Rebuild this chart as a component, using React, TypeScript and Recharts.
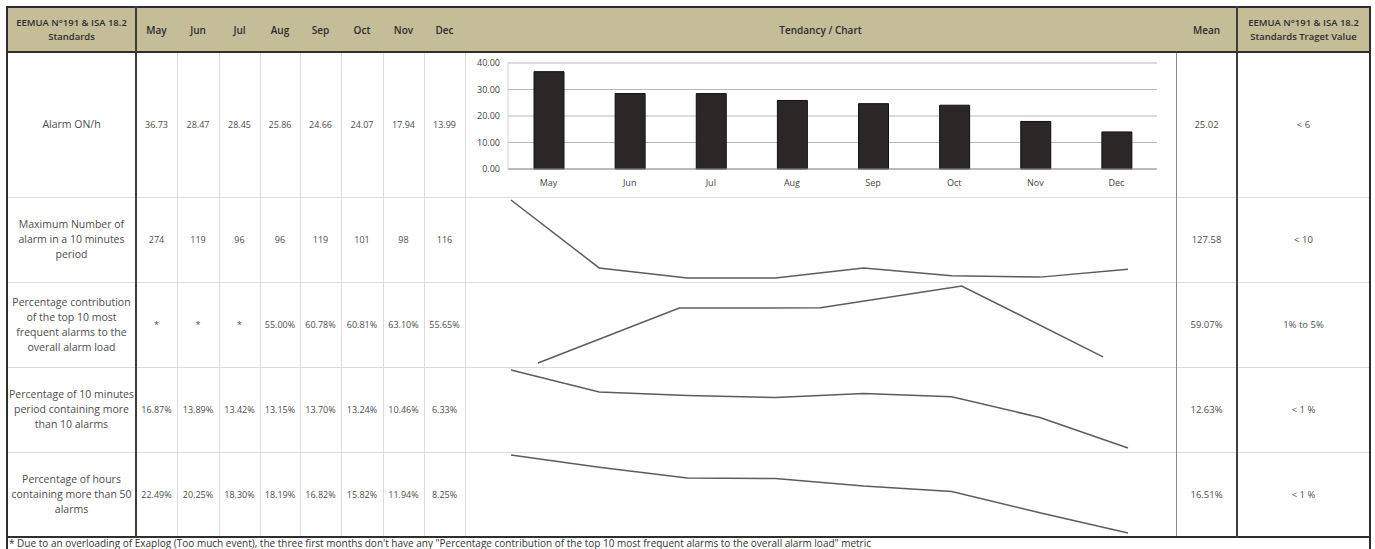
import { BarChart, Bar, LineChart, Line, XAxis, YAxis, CartesianGrid } from "recharts"

const months = ["May", "Jun", "Jul", "Aug", "Sep", "Oct", "Nov", "Dec"]
const alarmOnPerHour = [36.73, 28.47, 28.45, 25.86, 24.66, 24.07, 17.94, 13.99]
const maxAlarms10Min = [274, 119, 96, 96, 119, 101, 98, 116]
const top10Contribution: (number | null)[] = [null, null, null, 55.0, 60.78, 60.81, 63.1, 55.65]
const pct10MinOver10 = [16.87, 13.89, 13.42, 13.15, 13.7, 13.24, 10.46, 6.33]
const pctHoursOver50 = [22.49, 20.25, 18.3, 18.19, 16.82, 15.82, 11.94, 8.25]
const meanValues = ["25.02", "127.58", "59.07%", "12.63%", "16.51%"]
const targetValues = ["< 6", "< 10", "1% to 5%", "< 1 %", "< 1 %"]
const yTicks = [0, 10, 20, 30, 40]

const rowLabels = [
  ["Alarm ON/h"],
  ["Maximum Number of", "alarm in  a 10 minutes", "period"],
  ["Percentage contribution", "of the top 10 most", "frequent alarms to the", "overall alarm load"],
  ["Percentage of 10 minutes", "period containing more", "than 10 alarms"],
  ["Percentage of hours", "containing more than 50", "alarms"],
]

const FONT = '"Open Sans", "DejaVu Sans", sans-serif'
const HEAD_BG = "#c5bc98"
const DARK = "#2e2e2e"
const GRID = "#dcdcdc"

// column edges: label | 8 months | chart | mean | target
const colX = [7, 136, 177, 219, 260, 300, 341, 383, 424, 465, 1176, 1237, 1370]
const rowY = [7, 52, 197, 282, 367, 452, 537]

const pct = (v: number | null) => (v == null ? "*" : v.toFixed(2) + "%")
const cellRows: string[][] = [
  alarmOnPerHour.map((v) => v.toFixed(2)),
  maxAlarms10Min.map((v) => String(v)),
  top10Contribution.map(pct),
  pct10MinOver10.map(pct),
  pctHoursOver50.map(pct),
]

function Box({ x0, x1, y0, y1, children, style }: any) {
  return (
    <div
      style={{
        position: "absolute",
        left: x0,
        top: y0,
        width: x1 - x0,
        height: y1 - y0,
        display: "flex",
        alignItems: "center",
        justifyContent: "center",
        textAlign: "center",
        boxSizing: "border-box",
        ...style,
      }}
    >
      {children}
    </div>
  )
}

function HLine({ x0, x1, y, w = 1, c = GRID }: any) {
  return <div style={{ position: "absolute", left: x0, top: y - w / 2, width: x1 - x0, height: w, background: c }} />
}

function VLine({ x, y0, y1, w = 1, c = GRID }: any) {
  return <div style={{ position: "absolute", left: x - w / 2, top: y0, width: w, height: y1 - y0, background: c }} />
}

function Sparkline({ values, labels, top, height, left, right, mTop, mBottom }: any) {
  const data = labels.map((m: string, i: number) => ({ month: m, value: values[i] }))
  return (
    <div style={{ position: "absolute", left: 465, top }}>
      <LineChart width={711} height={height} data={data} margin={{ top: mTop, right, bottom: mBottom, left }}>
        <XAxis dataKey="month" hide scale="point" padding={{ left: 0, right: 0 }} />
        <YAxis hide domain={["dataMin", "dataMax"]} />
        <Line
          type="linear"
          dataKey="value"
          stroke="#5c5c5c"
          strokeWidth={1.5}
          dot={false}
          isAnimationActive={false}
        />
      </LineChart>
    </div>
  )
}

export default function App() {
  const barData = months.map((m, i) => ({ month: m, value: alarmOnPerHour[i] }))
  const contribMonths = months.filter((_, i) => top10Contribution[i] != null)
  const contribValues = top10Contribution.filter((v) => v != null)
  const headText = { color: DARK, fontWeight: 600, fontSize: 10 }

  return (
    <div
      style={{
        position: "absolute",
        left: 0,
        top: 0,
        width: 1375,
        height: 549,
        background: "#fff",
        fontFamily: FONT,
        color: "#4d4d4d",
        fontSize: 9.5,
        overflow: "hidden",
      }}
    >
      {/* header band */}
      <div style={{ position: "absolute", left: 7, top: 7, width: 1363, height: 45, background: HEAD_BG }} />
      <Box x0={7} x1={136} y0={7} y1={52} style={{ ...headText, fontSize: 9.5, lineHeight: "14px", whiteSpace: "nowrap" }}>
        <div>
          EEMUA N°191 &amp; ISA 18.2
          <br />
          Standards
        </div>
      </Box>
      {months.map((m, i) => (
        <Box key={m} x0={colX[i + 1]} x1={colX[i + 2]} y0={7} y1={52} style={headText}>
          {m}
        </Box>
      ))}
      <Box x0={465} x1={1176} y0={7} y1={52} style={headText}>
        Tendancy / Chart
      </Box>
      <Box x0={1176} x1={1237} y0={7} y1={52} style={headText}>
        Mean
      </Box>
      <Box x0={1237} x1={1370} y0={7} y1={52} style={{ ...headText, fontSize: 9.5, lineHeight: "14px", whiteSpace: "nowrap" }}>
        <div>
          EEMUA N°191 &amp; ISA 18.2
          <br />
          Standards Traget Value
        </div>
      </Box>

      {/* body grid */}
      {rowY.slice(2, 6).map((y) => (
        <HLine key={"h" + y} x0={7} x1={1370} y={y} />
      ))}
      {colX.slice(2, 10).map((x) => (
        <VLine key={"v" + x} x={x} y0={52} y1={537} />
      ))}
      <VLine x={1176} y0={52} y1={537} c="#8a8a8a" />

      {/* body cells */}
      {rowLabels.map((lines, r) => (
        <Box key={"l" + r} x0={7} x1={136} y0={rowY[r + 1]} y1={rowY[r + 2]} style={{ lineHeight: "15px", fontSize: 10.5, whiteSpace: "nowrap" }}>
          <div>
            {lines.map((t, k) => (
              <div key={k}>{t}</div>
            ))}
          </div>
        </Box>
      ))}
      {cellRows.map((vals, r) =>
        vals.map((v, c) => (
          <Box key={"c" + r + "-" + c} x0={colX[c + 1]} x1={colX[c + 2]} y0={rowY[r + 1]} y1={rowY[r + 2]} style={{ whiteSpace: "nowrap", fontSize: 9 }}>
            {v}
          </Box>
        ))
      )}
      {meanValues.map((v, r) => (
        <Box key={"m" + r} x0={1176} x1={1237} y0={rowY[r + 1]} y1={rowY[r + 2]}>
          {v}
        </Box>
      ))}
      {targetValues.map((v, r) => (
        <Box key={"t" + r} x0={1237} x1={1370} y0={rowY[r + 1]} y1={rowY[r + 2]}>
          {v}
        </Box>
      ))}

      {/* alarm ON/h bar chart */}
      <div style={{ position: "absolute", left: 465, top: 53 }}>
        <BarChart width={711} height={144} data={barData} margin={{ top: 10, right: 19, bottom: 5, left: 0 }}>
          <CartesianGrid vertical={false} stroke="#b8b8b8" />
          <XAxis
            dataKey="month"
            tick={{ fontSize: 9, fill: "#444" }}
            tickLine={false}
            tickMargin={5}
            axisLine={{ stroke: "#9a9a9a" }}
            height={23}
          />
          <YAxis
            width={43}
            domain={[0, 40]}
            ticks={yTicks}
            tickFormatter={(v: number) => v.toFixed(2)}
            tick={{ fontSize: 9, fill: "#444" }}
            tickLine={false}
            axisLine={{ stroke: "#d0d0d0" }}
          />
          <Bar dataKey="value" fill="#2b2727" stroke="#111" barSize={30} isAnimationActive={false} />
        </BarChart>
      </div>

      {/* sparklines */}
      <Sparkline values={maxAlarms10Min} labels={months} top={197} height={85} left={46} right={48} mTop={3} mBottom={4} />
      <Sparkline values={contribValues} labels={contribMonths} top={282} height={85} left={73} right={73} mTop={4} mBottom={4} />
      <Sparkline values={pct10MinOver10} labels={months} top={367} height={85} left={46} right={48} mTop={3} mBottom={4} />
      <Sparkline values={pctHoursOver50} labels={months} top={452} height={85} left={46} right={48} mTop={3} mBottom={4} />

      {/* heavy borders */}
      <HLine x0={6} x1={1371} y={7} w={2} c={DARK} />
      <HLine x0={6} x1={1371} y={52} w={2.5} c={DARK} />
      <HLine x0={6} x1={1371} y={537} w={2} c={DARK} />
      <VLine x={7} y0={6} y1={549} w={1.5} c={DARK} />
      <VLine x={136} y0={6} y1={537} w={2} c="#3c3c3c" />
      <VLine x={1237} y0={6} y1={537} w={2} c="#3c3c3c" />
      <VLine x={1370} y0={6} y1={549} w={1.5} c={DARK} />

      {/* footnote */}
      <div style={{ position: "absolute", left: 9, top: 538, fontSize: 10, color: "#333", whiteSpace: "nowrap", lineHeight: "10px" }}>
        * Due to an overloading of Exaplog (Too much event), the three first months don't have any "Percentage contribution of the top 10 most frequent alarms to the overall alarm load" metric
      </div>
    </div>
  )
}
